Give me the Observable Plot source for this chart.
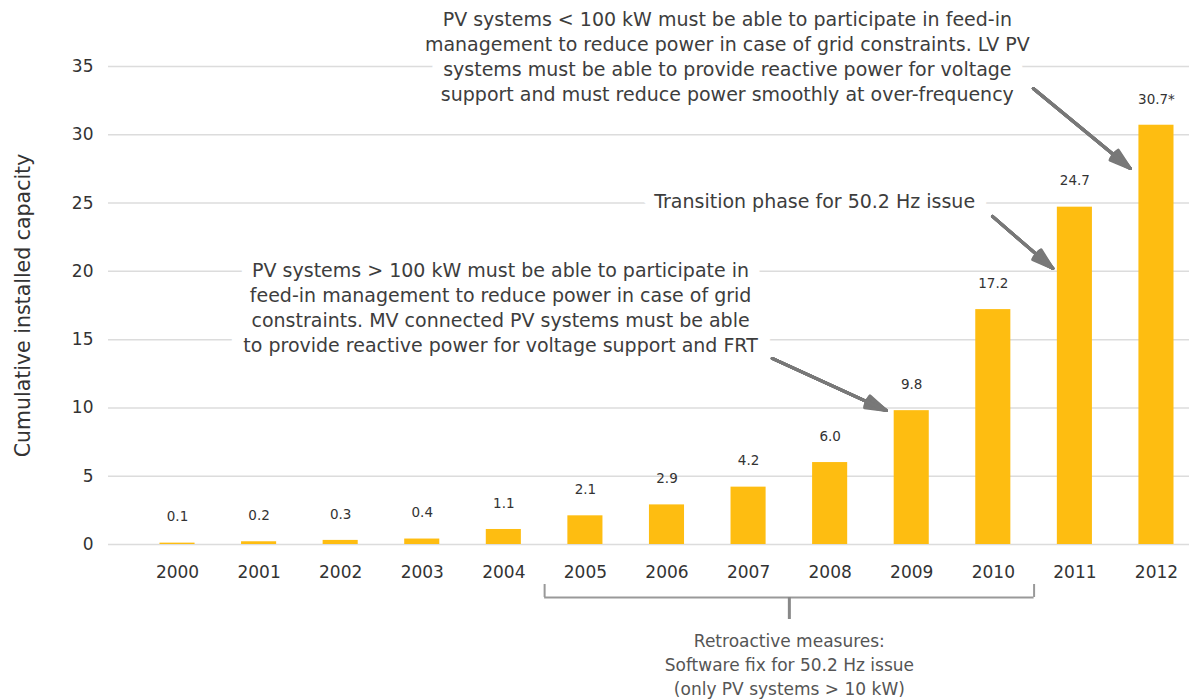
<!DOCTYPE html>
<html>
<head>
<meta charset="utf-8">
<script src="https://cdn.jsdelivr.net/npm/d3@7"></script>
<script src="https://cdn.jsdelivr.net/npm/@observablehq/plot@0.6"></script>
<style>
  html, body { margin: 0; padding: 0; background: #fff; }
  #chart svg { display: block; }
</style>
</head>
<body>
<div id="chart"></div>
<script>
// ---- data ----
const years = [2000, 2001, 2002, 2003, 2004, 2005, 2006, 2007, 2008, 2009, 2010, 2011, 2012];
const capacity = [0.1, 0.2, 0.3, 0.4, 1.1, 2.1, 2.9, 4.2, 6.0, 9.8, 17.2, 24.7, 30.7];
const valueLabels = ["0.1", "0.2", "0.3", "0.4", "1.1", "2.1", "2.9", "4.2", "6.0", "9.8", "17.2", "24.7", "30.7*"];
const yTicks = [0, 5, 10, 15, 20, 25, 30, 35];
const yTitle = "Cumulative installed capacity";

// callout texts, anchored in data space (year, capacity)
const calloutTexts = [
  "PV systems < 100 kW must be able to participate in feed-in\nmanagement to reduce power in case of grid constraints. LV PV\nsystems must be able to provide reactive power for voltage\nsupport and must reduce power smoothly at over-frequency",
  "Transition phase for 50.2 Hz issue",
  "PV systems > 100 kW must be able to participate in\nfeed-in management to reduce power in case of grid\nconstraints. MV connected PV systems must be able\nto provide reactive power for voltage support and FRT"
];
const calloutYear = [2006.74, 2007.81, 2003.96];
const calloutValue = [35.77, 25.19, 17.4];

// arrows from callouts to bars (year, capacity)
const arrowYear1 = [2010.49, 2009.99, 2007.29];
const arrowValue1 = [33.39, 24.02, 13.62];
const arrowYear2 = [2011.68, 2010.73, 2008.69];
const arrowValue2 = [27.53, 20.21, 9.81];

// bracket below the axis: retroactive measures for 2005–2010
const bracketYears = [2005, 2010];
const bracketNote = "Retroactive measures:\nSoftware fix for 50.2 Hz issue\n(only PV systems > 10 kW)";

// ---- tables ----
const bars = years.map((year, i) => ({year, value: capacity[i], label: valueLabels[i]}));
const callouts = calloutTexts.map((text, i) => ({text, x: calloutYear[i], y: calloutValue[i]}));
const arrows = arrowYear1.map((x1, i) => ({x1, y1: arrowValue1[i], x2: arrowYear2[i], y2: arrowValue2[i]}));
const bx1 = bracketYears[0] - 0.5, bx2 = bracketYears[1] + 0.5, bxm = (bx1 + bx2) / 2;
const bracketLevel = -3.88, bracketTop = -2.93, stemBottom = -5.49;

// filled-looking arrowheads: stack several arrows with widening head angles
const headAngles = [4, 10, 16, 22, 28, 34];
const arrowMarks = headAngles.map(a => Plot.arrow(arrows, {
  x1: "x1", y1: "y1", x2: "x2", y2: "y2",
  stroke: "#787878", strokeWidth: 3, headLength: 11, headAngle: a
}));

const calloutStyle = {x: "x", y: "y", text: "text", fontSize: 19, lineHeight: 1.316};

const chart = Plot.plot({
  width: 1189,
  height: 699,
  marginTop: 66,
  marginBottom: 155,
  marginLeft: 108,
  marginRight: 0,
  x: {domain: [1999.154, 2012.405]},
  y: {domain: [0, 35]},
  style: {fontFamily: "'DejaVu Sans', sans-serif", background: "#fff", color: "#333", overflow: "visible"},
  marks: [
    Plot.ruleY(yTicks, {stroke: "#dcdcdc", strokeWidth: 1.5}),
    Plot.axisY({ticks: yTicks, tickSize: 0, tickPadding: 15, fontSize: 17, label: null, fill: "#333"}),
    Plot.axisX({ticks: years, tickFormat: d => String(d), tickSize: 0, tickPadding: 21, fontSize: 17, label: null, fill: "#333"}),
    Plot.text([yTitle], {frameAnchor: "left", textAnchor: "middle", rotate: -90, dx: -85, fontSize: 20.5, fill: "#333"}),
    // white halo behind callouts (hides the grid lines)
    Plot.text(callouts, {...calloutStyle, fill: "white", stroke: "white", strokeWidth: 24, strokeLinejoin: "round"}),
    Plot.text(callouts, {...calloutStyle, fill: "#3d3d3d"}),
    Plot.rectY(bars, {x1: d => d.year - 0.215, x2: d => d.year + 0.215, y1: 0, y2: "value", fill: "#FEBD11"}),
    Plot.text(bars, {x: "year", y: "value", text: "label", dy: -26, fontSize: 13.5, fill: "#333"}),
    ...arrowMarks,
    Plot.ruleY([bracketLevel], {x1: bx1, x2: bx2, stroke: "#999", strokeWidth: 2}),
    Plot.ruleX([bx1, bx2], {y1: bracketTop, y2: bracketLevel, stroke: "#999", strokeWidth: 2}),
    Plot.ruleX([bxm], {y1: bracketLevel, y2: stemBottom, stroke: "#888", strokeWidth: 3}),
    Plot.text([bracketNote], {x: bxm, y: -8.72, fontSize: 17, lineHeight: 1.42, fill: "#555"})
  ]
});
document.getElementById("chart").appendChild(chart);
</script>
</body>
</html>
